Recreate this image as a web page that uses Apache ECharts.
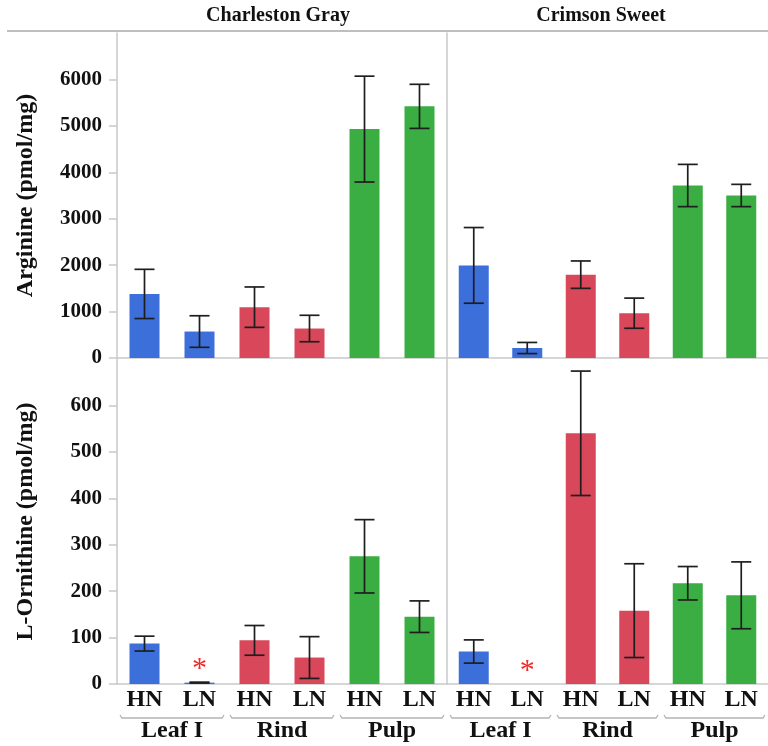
<!DOCTYPE html>
<html>
<head>
<meta charset="utf-8">
<script src="https://cdn.jsdelivr.net/npm/echarts@6/dist/echarts.min.js"></script>
<style>
  html, body { margin: 0; padding: 0; background: #fff; }
  #chart { width: 768px; height: 746px; }
</style>
</head>
<body>
<div id="chart"></div>
<script>
// Tissues, nitrogen levels and cultivars
const tissues = ['Leaf I', 'Rind', 'Pulp'];
const nitrogen = ['HN', 'LN'];
const cultivars = ['Charleston Gray', 'Crimson Sweet'];

// Arginine (pmol/mg): means and error half-widths, order Leaf I HN/LN, Rind HN/LN, Pulp HN/LN
const argCG = [1380, 570, 1095, 635, 4930, 5420];
const argCGErr = [530, 340, 435, 285, 1140, 475];
const argCS = [1995, 215, 1795, 965, 3715, 3500];
const argCSErr = [815, 120, 295, 325, 455, 240];

// L-Ornithine (pmol/mg)
const ornCG = [87, 3, 94, 57, 275, 145];
const ornCGErr = [16, 1, 32, 45, 79, 34];
const ornCS = [70, 0, 540, 158, 217, 191];
const ornCSErr = [25, 0, 134, 101, 36, 72];

// Significance marks shown above the bars
const ornCGSig = ['', '*', '', '', '', ''];
const ornCSSig = ['', '*', '', '', '', ''];
const noSig = ['', '', '', '', '', ''];

// Axis ranges
const argMax = 7000, argStep = 1000;
const ornMax = 700, ornStep = 100;

const tissueColors = ['#3d6fdb', '#d8475a', '#3aae42'];
const FONT = '"Liberation Serif", "Times New Roman", serif';
const AXIS_GRAY = '#c9c9c9';

// one category per tissue x nitrogen combination
const categories = [];
tissues.forEach(t => nitrogen.forEach(n => categories.push(t + '|' + n)));

const chart = echarts.init(document.getElementById('chart'), null, { renderer: 'canvas' });

const gridW = 330, gridH = 325;
const grids = [
  { left: 117, top: 33, width: gridW, height: gridH },
  { left: 117 + gridW, top: 33, width: gridW, height: gridH },
  { left: 117, top: 33 + gridH + 1, width: gridW, height: gridH },
  { left: 117 + gridW, top: 33 + gridH + 1, width: gridW, height: gridH }
];

const panels = [
  { means: argCG, errs: argCGErr, sig: noSig },
  { means: argCS, errs: argCSErr, sig: noSig },
  { means: ornCG, errs: ornCGErr, sig: ornCGSig },
  { means: ornCS, errs: ornCSErr, sig: ornCSSig }
];

const xAxes = [];
const yAxes = [];
const series = [];

grids.forEach((g, gi) => {
  const bottomRow = gi >= 2;
  const firstCol = gi % 2 === 0;
  xAxes.push({
    type: 'category', gridIndex: gi, data: categories,
    axisLine: { show: true, lineStyle: { color: AXIS_GRAY, width: 1.5 } },
    axisTick: { show: false },
    axisLabel: {
      show: bottomRow, margin: 4, interval: 0,
      formatter: v => v.split('|')[1],
      fontFamily: FONT, fontWeight: 'bold', fontSize: 24, color: '#111'
    }
  });
  yAxes.push({
    type: 'value', gridIndex: gi, min: 0,
    max: bottomRow ? ornMax : argMax,
    interval: bottomRow ? ornStep : argStep,
    splitLine: { show: false },
    axisLine: { show: true, lineStyle: { color: AXIS_GRAY, width: 1.5 } },
    axisTick: { show: firstCol, length: 8, lineStyle: { color: AXIS_GRAY, width: 1.5 } },
    axisLabel: {
      show: firstCol, showMaxLabel: false, margin: 15,
      formatter: v => String(v),
      fontFamily: FONT, fontWeight: 'bold', fontSize: 21, color: '#111'
    },
    name: firstCol ? (bottomRow ? 'L-Ornithine (pmol/mg)' : 'Arginine (pmol/mg)') : '',
    nameLocation: 'middle', nameGap: 79,
    nameTextStyle: { fontFamily: FONT, fontWeight: 'bold', fontSize: 24, color: '#111' }
  });
});

// tissue group axes under the bottom panels
const groupAxisIndex = {};
[2, 3].forEach(gi => {
  groupAxisIndex[gi] = xAxes.length;
  xAxes.push({
    type: 'category', gridIndex: gi, data: tissues, position: 'bottom', offset: 27,
    axisLine: { show: false }, axisTick: { show: false },
    axisLabel: { margin: 8, interval: 0, fontFamily: FONT, fontWeight: 'bold', fontSize: 24, color: '#111' }
  });
});

function errorBarItem(params, api) {
  const i = api.value(0);
  const lo = api.coord([i, api.value(1)]);
  const hi = api.coord([i, api.value(2)]);
  const cap = 10;
  const style = { stroke: '#1e1e1e', lineWidth: 1.7 };
  return {
    type: 'group',
    children: [
      { type: 'line', shape: { x1: hi[0], y1: hi[1], x2: lo[0], y2: lo[1] }, style },
      { type: 'line', shape: { x1: hi[0] - cap, y1: hi[1], x2: hi[0] + cap, y2: hi[1] }, style },
      { type: 'line', shape: { x1: lo[0] - cap, y1: lo[1], x2: lo[0] + cap, y2: lo[1] }, style }
    ]
  };
}

function bracketItem(params, api) {
  const c = api.coord([api.value(0), 0]);
  const w = api.size([1, 0])[0];
  const x1 = c[0] - w / 2 + 3, x2 = c[0] + w / 2 - 3;
  const y = c[1] + 34;
  return {
    type: 'polyline',
    shape: { points: [[x1, y - 3], [x1 + 2, y], [x2 - 2, y], [x2, y - 3]] },
    style: { stroke: '#b4b4b4', lineWidth: 1.3, fill: null }
  };
}

panels.forEach((p, gi) => {
  series.push({
    type: 'bar', xAxisIndex: gi, yAxisIndex: gi, barWidth: 30,
    data: p.means.map((v, i) => ({
      value: v,
      itemStyle: { color: tissueColors[Math.floor(i / nitrogen.length)] },
      label: {
        show: p.sig[i] !== '', formatter: p.sig[i], position: 'top', distance: -2,
        color: '#ee2a2a', fontSize: 30, fontFamily: FONT
      }
    })),
    animation: false
  });
  const errData = [];
  p.means.forEach((v, i) => {
    if (p.errs[i] > 0) errData.push([i, v - p.errs[i], v + p.errs[i]]);
  });
  series.push({
    type: 'custom', xAxisIndex: gi, yAxisIndex: gi, clip: false,
    renderItem: errorBarItem, encode: { x: 0, y: [1, 2] },
    data: errData, z: 5, animation: false
  });
  if (gi >= 2) {
    series.push({
      type: 'custom', xAxisIndex: groupAxisIndex[gi], yAxisIndex: gi, clip: false,
      renderItem: bracketItem, encode: { x: 0, y: 1 },
      data: tissues.map((t, k) => [k, 0]), silent: true, animation: false
    });
  }
});

chart.setOption({
  animation: false,
  backgroundColor: '#ffffff',
  grid: grids,
  xAxis: xAxes,
  yAxis: yAxes,
  series: series,
  graphic: [
    { type: 'line', shape: { x1: 7, y1: 31, x2: 768, y2: 31 }, style: { stroke: '#a8a8a8', lineWidth: 1.5 } },
    { type: 'text', x: 278, y: 16, style: { text: cultivars[0], textAlign: 'center', textVerticalAlign: 'middle', font: 'bold 20px ' + FONT, fill: '#111' } },
    { type: 'text', x: 601, y: 16, style: { text: cultivars[1], textAlign: 'center', textVerticalAlign: 'middle', font: 'bold 20px ' + FONT, fill: '#111' } }
  ]
});
</script>
</body>
</html>
